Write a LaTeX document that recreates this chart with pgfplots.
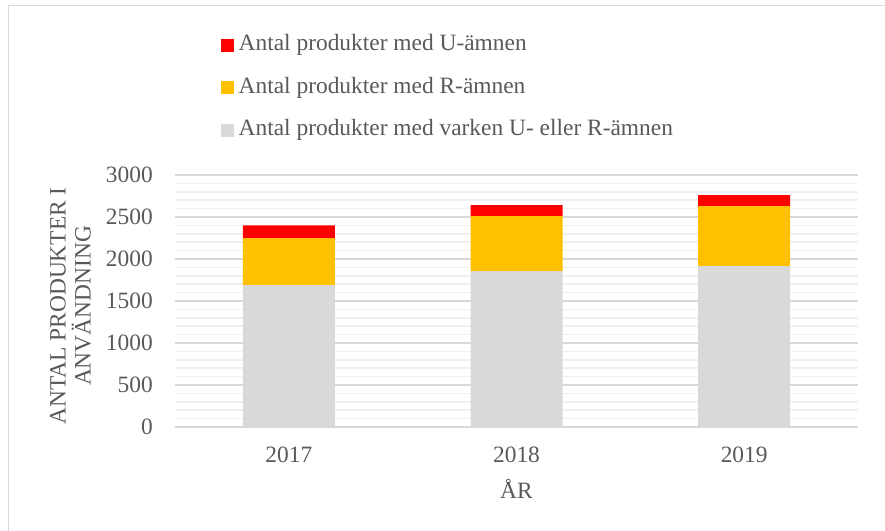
\documentclass[border=0pt]{standalone}
\usepackage{pgfplots}
\pgfplotsset{compat=1.18}
\usepackage{fontspec}
\setmainfont{Liberation Serif}
\definecolor{cred}{HTML}{FF0000}
\definecolor{corange}{HTML}{FFC000}
\definecolor{cgray}{HTML}{D9D9D9}
\definecolor{textc}{HTML}{595959}
\definecolor{gridmaj}{HTML}{D9D9D9}
\definecolor{gridmin}{HTML}{F0F0F0}
\newcommand{\cf}{\fontsize{23.5}{25}\selectfont}
\begin{document}
\begin{tikzpicture}[x=1bp,y=1bp]
\useasboundingbox (0,0) rectangle (885,531);
\begin{scope}
\clip (0,0) rectangle (885,531);
\draw[color=cgray, line width=1.3bp] (8.7,-10) -- (8.7,525.3) -- (900,525.3);
\end{scope}
\begin{axis}[
  at={(175bp,104bp)}, anchor=south west,
  scale only axis, width=683bp, height=252bp,
  ybar stacked, bar width=92bp,
  xmin=-0.5, xmax=2.5, ymin=0, ymax=3000,
  xtick={0,1,2}, xticklabels={2017,2018,2019},
  ytick={0,500,...,3000}, minor y tick num=4,
  ymajorgrids, yminorgrids,
  major grid style={color=gridmaj, line width=1.5bp},
  minor grid style={color=gridmin, line width=1.5bp},
  axis line style={draw=none},
  major tick style={draw=none}, minor tick style={draw=none},
  /pgf/number format/assume math mode=true,
  /pgf/number format/1000 sep={},
  ticklabel style={font=\cf, text=textc},
  yticklabel style={anchor=east, inner sep=0pt, xshift=-22bp},
  xticklabel style={anchor=north, inner sep=0pt, yshift=-20bp},
  xlabel={ÅR},
  xlabel style={at={(axis description cs:0.5,0)}, anchor=base, inner sep=0pt, yshift=-72bp, font=\cf, text=textc},
  legend image code/.code={\fill[#1] (0bp,-6.5bp) rectangle (12.5bp,6.5bp);},
  reverse legend,
  legend cell align=left,
  legend style={at={(axis description cs:0.0673,1.5567)}, anchor=north west,
    draw=none, fill=none, font=\cf, text=textc, inner sep=0pt,
    row sep=21.5bp, column sep=5bp,
    nodes={inner sep=0pt, text height=16bp, text depth=5bp}},
]
\addplot[fill=cgray, draw=none] coordinates {(0,1690) (1,1855) (2,1914)};
\addplot[fill=corange, draw=none] coordinates {(0,557) (1,654) (2,714)};
\addplot[fill=cred, draw=none] coordinates {(0,153) (1,131) (2,131)};
\legend{Antal produkter med varken U- eller R-ämnen, Antal produkter med R-ämnen, Antal produkter med U-ämnen}
\end{axis}
\node[rotate=90, align=center, font=\cf, text=textc, inner sep=0pt] at (70.5,225) {ANTAL PRODUKTER I\\ANVÄNDNING};
\end{tikzpicture}
\end{document}
